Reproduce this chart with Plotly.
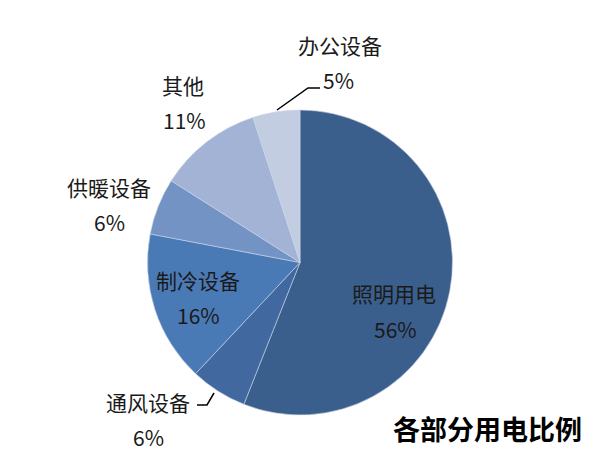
import plotly.graph_objects as go

labels = ["照明用电", "通风设备", "制冷设备", "供暖设备", "其他", "办公设备"]
values = [56, 6, 16, 6, 11, 5]
colors = ["#3A5F8C", "#41699F", "#4A7AB6", "#7393C5", "#A2B3D5", "#C3CDE2"]
title = "各部分用电比例"

W, H = 600, 460
# label positions in pixels (name line, percent line)
name_pos = [(394, 293), (148, 402), (198, 280), (109, 187), (183, 85), (340, 45)]
pct_pos = [(395, 329), (148, 437), (198, 315), (109, 222), (184, 120), (339, 80)]

fig = go.Figure(go.Pie(
    labels=labels, values=values, sort=False, direction="clockwise", rotation=0,
    marker=dict(colors=colors, line=dict(color="#C9D3E6", width=0.6)),
    textinfo="none", hoverinfo="label+percent", showlegend=False,
    domain=dict(x=[147 / W, 453 / W], y=[1 - 415 / H, 1 - 110 / H]),
))

font = dict(family="Noto Sans CJK SC", size=21, color="#1A1A1A")
anns = []
for lab, v, (nx, ny), (px_, py) in zip(labels, values, name_pos, pct_pos):
    anns.append(dict(x=nx / W, y=1 - ny / H, xref="paper", yref="paper", text=lab,
                     showarrow=False, font=font, xanchor="center", yanchor="middle"))
    anns.append(dict(x=px_ / W, y=1 - py / H, xref="paper", yref="paper", text=f"{v}%",
                     showarrow=False, font=font, xanchor="center", yanchor="middle"))
anns.append(dict(x=487 / W, y=1 - 428 / H, xref="paper", yref="paper", text="<b>" + title + "</b>",
                 showarrow=False, xanchor="center", yanchor="middle",
                 font=dict(family="Noto Sans CJK SC", size=27, color="#000000")))

def leader(pts):
    path = "M " + " L ".join(f"{x / W},{1 - y / H}" for x, y in pts)
    return dict(type="path", xref="paper", yref="paper", path=path,
                line=dict(color="#000000", width=1.5))

shapes = [
    leader([(277, 110), (308, 88), (320, 88)]),
    leader([(197, 405), (207, 405), (214, 393)]),
]

fig.update_layout(
    width=W, height=H, margin=dict(l=0, r=0, t=0, b=0),
    paper_bgcolor="white", plot_bgcolor="white",
    annotations=anns, shapes=shapes,
)
fig.write_html("out.html", config={"displayModeBar": False},
               post_script="document.body.style.margin='0px';")
